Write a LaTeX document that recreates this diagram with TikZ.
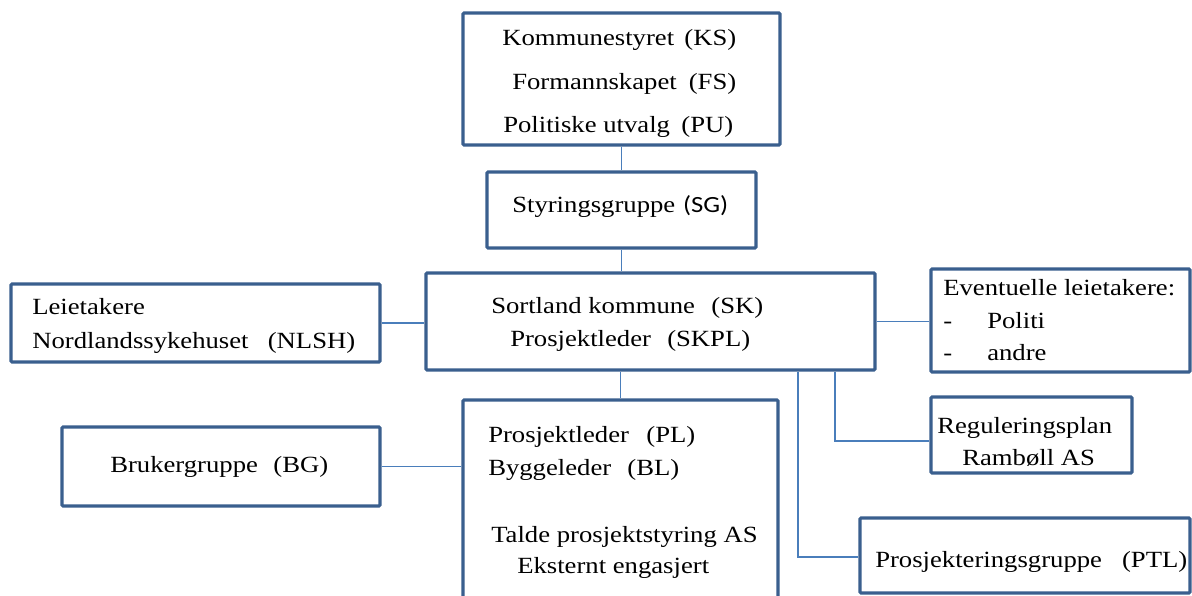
\documentclass[tikz,border=0pt]{standalone}
\usepackage{fontspec}
\setmainfont{Liberation Serif}[FakeStretch=1.15]
\newfontfamily\calfont{Carlito}[FakeStretch=1.15]
\usetikzlibrary{calc}
\definecolor{boxblue}{HTML}{3A5F8E}
\definecolor{linkblue}{HTML}{4A7EBB}
\newlength{\px}\setlength{\px}{0.75pt}
\begin{document}
\begin{tikzpicture}[x=0.75pt,y=-0.75pt,
  box/.style={draw=boxblue, line width=2.4pt, inner sep=0pt, rounded corners=0.8pt},
  conn/.style={draw=linkblue, line width=1.45pt},
  txt/.style={inner sep=0pt, anchor=base west, font=\fontsize{17.4}{20}\selectfont, text=black}]
\useasboundingbox (0,0) rectangle (1192,596);
\clip (0,0) rectangle (1192,596);
\fill[white] (0,0) rectangle (1192,596);

% boxes
\node[box, minimum width=317\px, minimum height=132\px] (ks) at (621.5,79) {};
\node[box, minimum width=269\px, minimum height=76\px] (sg) at (621.5,210) {};
\node[box, minimum width=449\px, minimum height=97\px] (sk) at (650.5,321.5) {};
\node[box, minimum width=369\px, minimum height=78\px] (nlsh) at (195.5,323) {};
\node[box, minimum width=318\px, minimum height=79\px] (bg) at (221,466.5) {};
\node[box, minimum width=315\px, minimum height=260\px] (pl) at (620.5,530) {};
\node[box, minimum width=259\px, minimum height=103\px] (ev) at (1060.5,320.5) {};
\node[box, minimum width=201\px, minimum height=76\px] (reg) at (1031.5,435) {};
\node[box, minimum width=330\px, minimum height=75\px] (ptl) at (1025,555.5) {};

% texts
\node[txt] (ks1) at (502,45) {\makebox[234\px][s]{Kommunestyret\hfill(KS)}};
\node[txt] (ks2) at (512,89) {\makebox[224\px][s]{Formannskapet\hfill(FS)}};
\node[txt] (ks3) at (503,132) {\makebox[230\px][s]{Politiske utvalg\hfill(PU)}};
\node[txt] (sg1) at (512,212) {\makebox[216\px][s]{Styringsgruppe\hfill{\calfont(SG)}}};
\node[txt] (sk1) at (491,313) {\makebox[272\px][s]{Sortland kommune\hfill(SK)}};
\node[txt] (sk2) at (510,346) {\makebox[240\px][s]{Prosjektleder\hfill(SKPL)}};
\node[txt] (nl1) at (32,314) {Leietakere};
\node[txt] (nl2) at (32,348) {\makebox[323\px][s]{Nordlandssykehuset\hfill(NLSH)}};
\node[txt] (bg1) at (110,472) {\makebox[218\px][s]{Brukergruppe\hfill(BG)}};
\node[txt] (pl1) at (488,442) {\makebox[207\px][s]{Prosjektleder\hfill(PL)}};
\node[txt] (pl2) at (488,475) {\makebox[191\px][s]{Byggeleder\hfill(BL)}};
\node[txt] (pl3) at (491,542) {Talde prosjektstyring AS};
\node[txt] (pl4) at (517,573) {Eksternt engasjert};
\node[txt] (ev1) at (943,295) {Eventuelle leietakere:};
\node[txt] (ev2) at (943,328) {-};
\node[txt] (ev3) at (987,328) {Politi};
\node[txt] (ev4) at (943,360) {-};
\node[txt] (ev5) at (987,360) {andre};
\node[txt] (rg1) at (937,433) {Reguleringsplan};
\node[txt] (rg2) at (962,465) {Rambøll AS};
\node[txt] (pt1) at (875,567) {\makebox[312\px][s]{Prosjekteringsgruppe\hfill(PTL)}};

% connectors
\draw[conn] (ks.south) -- (sg.north);
\draw[conn] (sg.south) -- (sg.south |- sk.north);
\draw[conn] (nlsh.east) -- (nlsh.east -| sk.west);
\draw[conn] (pl.north |- sk.south) -- (pl.north);
\draw[conn] (bg.east) -- (bg.east -| pl.west);
\draw[conn] (sk.east) -- (sk.east -| ev.west);
\draw[conn] ([xshift=184.5\px]sk.south) |- ([yshift=-6\px]reg.west);
\draw[conn] ([xshift=147.5\px]sk.south) |- ([yshift=-1.5\px]ptl.west);
\end{tikzpicture}
\end{document}
